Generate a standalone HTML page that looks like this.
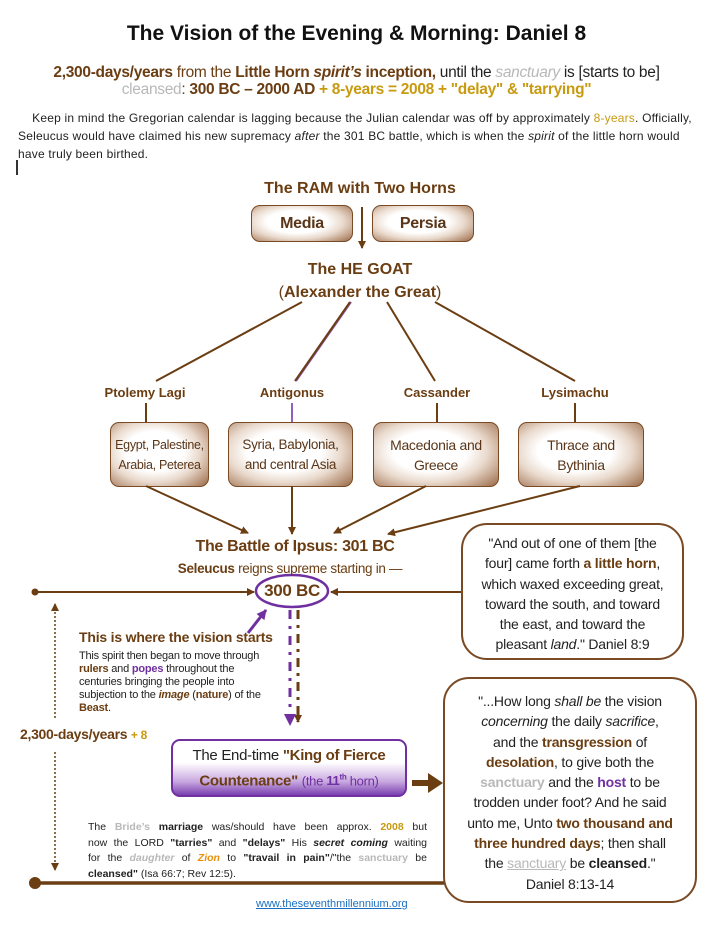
<!DOCTYPE html>
<html><head><meta charset="utf-8"><style>
body{margin:0;width:713px;height:936px;background:#fff;position:relative;overflow:hidden;font-family:"Liberation Sans",sans-serif;}
.a{position:absolute;}
.c{text-align:center;}
.br{color:#6b3d12;}
.gold{color:#c89a10;}
.gr{color:#b8b8b8;}
.pu{color:#7030a0;}
.nw{white-space:nowrap;}
.box{position:absolute;border:1.5px solid #7a4a25;border-radius:9px;background:radial-gradient(ellipse 75% 80% at 45% 45%,#fff 40%,#e9d9cc 62%,#9b6b48 100%);display:flex;align-items:center;justify-content:center;text-align:center;color:#5a3518;white-space:nowrap;letter-spacing:-0.3px;}
.q{position:absolute;border:2px solid #7a4a25;border-radius:26px;background:#fff;text-align:center;font-size:14px;line-height:20.3px;color:#222;white-space:nowrap;letter-spacing:-0.2px;}
.j{text-align:justify;text-align-last:justify;white-space:nowrap;}
</style></head><body>
<div class="a c" style="left:0;width:713px;top:22px;font-size:21px;font-weight:bold;color:#111;">The Vision of the Evening &amp; Morning: Daniel 8</div>
<div class="a c nw" style="left:0;width:713px;top:64px;font-size:15.5px;line-height:17px;color:#6b3d12;letter-spacing:-0.3px;">
<b>2,300-days/years</b> from the <b>Little Horn <i>spirit’s</i> inception,</b> <span style="color:#222">until the</span> <i class="gr">sanctuary</i> <span style="color:#222">is [starts to be]</span><br>
<span class="gr">cleansed</span>: <b>300 BC – 2000 AD</b> <b class="gold">+ 8-years = 2008 + "delay" &amp; "tarrying"</b></div>
<div class="a nw" style="left:18px;top:109px;width:690px;font-size:12px;line-height:18px;color:#222;letter-spacing:0.2px;">&nbsp;&nbsp;&nbsp;&nbsp;Keep in mind the Gregorian calendar is lagging because the Julian calendar was off by approximately <span class="gold">8-years</span>. Officially,<br>Seleucus would have claimed his new supremacy <i>after</i> the 301 BC battle, which is when the <i>spirit</i> of the little horn would<br>have truly been birthed.</div>
<div class="a" style="left:16px;top:160px;width:2px;height:15px;background:#333;"></div>

<div class="a c br" style="left:230px;width:260px;top:180px;font-size:16px;font-weight:bold;">The RAM with Two Horns</div>
<div class="box" style="left:251px;top:205px;width:100px;height:35px;font-size:16px;font-weight:bold;">Media</div>
<div class="box" style="left:372px;top:205px;width:100px;height:35px;font-size:16px;font-weight:bold;">Persia</div>
<div class="a c br" style="left:230px;width:260px;top:258px;font-size:16px;font-weight:bold;line-height:23px;">The HE GOAT<br><span style="font-weight:normal">(</span>Alexander the Great<span style="font-weight:normal">)</span></div>

<div class="a c br" style="left:95px;width:100px;top:385px;font-size:13px;font-weight:bold;">Ptolemy Lagi</div>
<div class="a c br" style="left:242px;width:100px;top:385px;font-size:13px;font-weight:bold;">Antigonus</div>
<div class="a c br" style="left:387px;width:100px;top:385px;font-size:13px;font-weight:bold;">Cassander</div>
<div class="a c br" style="left:525px;width:100px;top:385px;font-size:13px;font-weight:bold;">Lysimachu</div>

<div class="box" style="left:110px;top:422px;width:97px;height:63px;font-size:12.5px;line-height:20px;">Egypt, Palestine,<br>Arabia, Peterea</div>
<div class="box" style="left:228px;top:422px;width:123px;height:63px;font-size:13.5px;line-height:20px;">Syria, Babylonia,<br>and central Asia</div>
<div class="box" style="left:373px;top:422px;width:124px;height:63px;font-size:14px;line-height:20px;">Macedonia and<br>Greece</div>
<div class="box" style="left:518px;top:422px;width:124px;height:63px;font-size:14px;line-height:20px;">Thrace and<br>Bythinia</div>

<svg class="a" style="left:0;top:0" width="713" height="936">
<defs>
<marker id="ab" markerWidth="8" markerHeight="8" refX="7" refY="4" orient="auto" markerUnits="userSpaceOnUse"><path d="M0,0L8,4L0,8z" fill="#6b3d12"/></marker>
<marker id="ap" markerWidth="10" markerHeight="10" refX="9" refY="5" orient="auto" markerUnits="userSpaceOnUse"><path d="M0,0L10,5L0,10z" fill="#7030a0"/></marker>
</defs>
<g stroke="#6b3d12" stroke-width="2" fill="none">
<line x1="362" y1="207" x2="362" y2="248" marker-end="url(#ab)"/>
<line x1="302" y1="302" x2="156" y2="381"/>
<line x1="351" y1="302" x2="296" y2="381" stroke="#8a5aa8"/>
<line x1="350" y1="302" x2="295" y2="381"/>
<line x1="387" y1="302" x2="435" y2="381"/>
<line x1="435" y1="302" x2="575" y2="381"/>
<line x1="146" y1="403" x2="146" y2="422"/>
<line x1="292" y1="403" x2="292" y2="422" stroke="#9060c0"/>
<line x1="437" y1="403" x2="437" y2="422"/>
<line x1="575" y1="403" x2="575" y2="422"/>
<line x1="146" y1="486" x2="248" y2="533" marker-end="url(#ab)"/>
<line x1="292" y1="486" x2="292" y2="534" marker-end="url(#ab)"/>
<line x1="426" y1="486" x2="334" y2="533" marker-end="url(#ab)"/>
<line x1="580" y1="486" x2="388" y2="534" marker-end="url(#ab)"/>
<line x1="35" y1="592" x2="254" y2="592" marker-end="url(#ab)"/>
<line x1="461" y1="592" x2="331" y2="592" marker-end="url(#ab)"/>
<line x1="35" y1="883" x2="505" y2="883" stroke-width="3.5"/>
<line x1="55" y1="718" x2="55" y2="604" stroke-width="1.5" stroke-dasharray="2,2" marker-end="url(#ab)"/>
<line x1="55" y1="752" x2="55" y2="870" stroke-width="1.5" stroke-dasharray="2,2" marker-end="url(#ab)"/>
<line x1="298" y1="610" x2="298" y2="722" stroke-width="3" stroke-dasharray="9,6,3,6" marker-end="url(#ab)"/>
<line x1="412" y1="783" x2="430" y2="783" stroke-width="6"/>
</g>
<path d="M497,883 L508,878 L508,888z" fill="#6b3d12"/>
<circle cx="35" cy="592" r="3.5" fill="#6b3d12"/>
<circle cx="35" cy="883" r="6" fill="#6b3d12"/>
<path d="M428,773 L443,783 L428,793z" fill="#6b3d12"/>
<line x1="290" y1="610" x2="290" y2="716" stroke="#7030a0" stroke-width="3" stroke-dasharray="9,7,3,7"/>
<path d="M284,714 L296,714 L290,726z" fill="#7030a0"/>
<ellipse cx="292" cy="591" rx="36" ry="16" fill="none" stroke="#7030a0" stroke-width="2.5"/>
<line x1="248" y1="633" x2="266" y2="610" stroke="#7030a0" stroke-width="3" marker-end="url(#ap)"/>
</svg>

<div class="a c br nw" style="left:150px;width:290px;top:538px;font-size:16px;font-weight:bold;letter-spacing:-0.3px;">The Battle of Ipsus: 301 BC</div>
<div class="a c br nw" style="left:130px;width:320px;top:561px;font-size:13.5px;letter-spacing:-0.3px;"><b>Seleucus</b> reigns supreme starting in —</div>
<div class="a c br" style="left:252px;width:80px;top:581px;font-size:17px;font-weight:bold;letter-spacing:-0.3px;">300 BC</div>

<div class="a br nw" style="left:79px;top:629px;font-size:14px;font-weight:bold;letter-spacing:-0.2px;">This is where the vision starts</div>
<div class="a nw" style="left:79px;top:650px;width:200px;font-size:11px;line-height:13px;color:#222;letter-spacing:-0.2px;">This spirit then began to move through<br><b class="br">rulers</b> and <b class="pu">popes</b> throughout the<br>centuries bringing the people into<br>subjection to the <b class="br"><i>image</i></b> (<b class="br">nature</b>) of the<br><b class="br">Beast</b>.</div>

<div class="a br nw" style="left:20px;top:726px;font-size:14px;font-weight:bold;letter-spacing:-0.3px;">2,300-days/years <span class="gold" style="font-size:12px">+ 8</span></div>

<div class="a c nw" style="left:171px;top:739px;width:236px;height:58px;border:2px solid #7030a0;border-radius:9px;background:linear-gradient(#fff 0%,#fff 40%,#c8a8e0 75%,#7a40b0 100%);box-sizing:border-box;font-size:15px;line-height:22px;padding-top:4px;color:#222;letter-spacing:-0.3px;">The End-time <b class="br">"King of Fierce</b><br><b class="br">Countenance"</b> <span class="pu" style="font-size:13px">(the <b>11<sup style="font-size:8px">th</sup></b> horn)</span></div>

<div class="a" style="left:88px;top:820px;width:339px;font-size:10.5px;line-height:15.5px;color:#222;">
<div class="j">The <b class="gr">Bride’s</b> <b>marriage</b> was/should have been approx. <b class="gold">2008</b> but</div>
<div class="j">now the LORD <b>"tarries"</b> and <b>"delays"</b> His <b><i>secret coming</i></b> waiting</div>
<div class="j">for the <i class="gr"><b>daughter</b></i> of <i style="color:#e8900a"><b>Zion</b></i> to <b>"travail in pain"</b>/"the <b class="gr">sanctuary</b> be</div>
<div class="nw"><b>cleansed"</b> (Isa 66:7; Rev 12:5).</div></div>

<div class="a" style="left:256px;top:898px;font-size:11px;color:#1a6fc0;text-decoration:underline;">www.theseventhmillennium.org</div>

<div class="q" style="left:461px;top:523px;width:223px;height:137px;padding-top:8px;box-sizing:border-box;">"And out of one of them [the<br>four] came forth <b class="br">a little horn</b>,<br>which waxed exceeding great,<br>toward the south, and toward<br>the east, and toward the<br>pleasant <i>land</i>." Daniel 8:9</div>
<div class="q" style="left:443px;top:677px;width:254px;height:226px;padding:12px 4px 0;box-sizing:border-box;">"...How long <i>shall be</i> the vision<br><i>concerning</i> the daily <i>sacrifice</i>,<br>and the <b class="br">transgression</b> of<br><b class="br">desolation</b>, to give both the<br><b class="gr">sanctuary</b> and the <b class="pu">host</b> to be<br>trodden under foot? And he said<br>unto me, Unto <b class="br">two thousand and</b><br><b class="br">three hundred days</b>; then shall<br>the <u class="gr">sanctuary</u> be <b>cleansed</b>."<br>Daniel 8:13-14</div>
</body></html>
